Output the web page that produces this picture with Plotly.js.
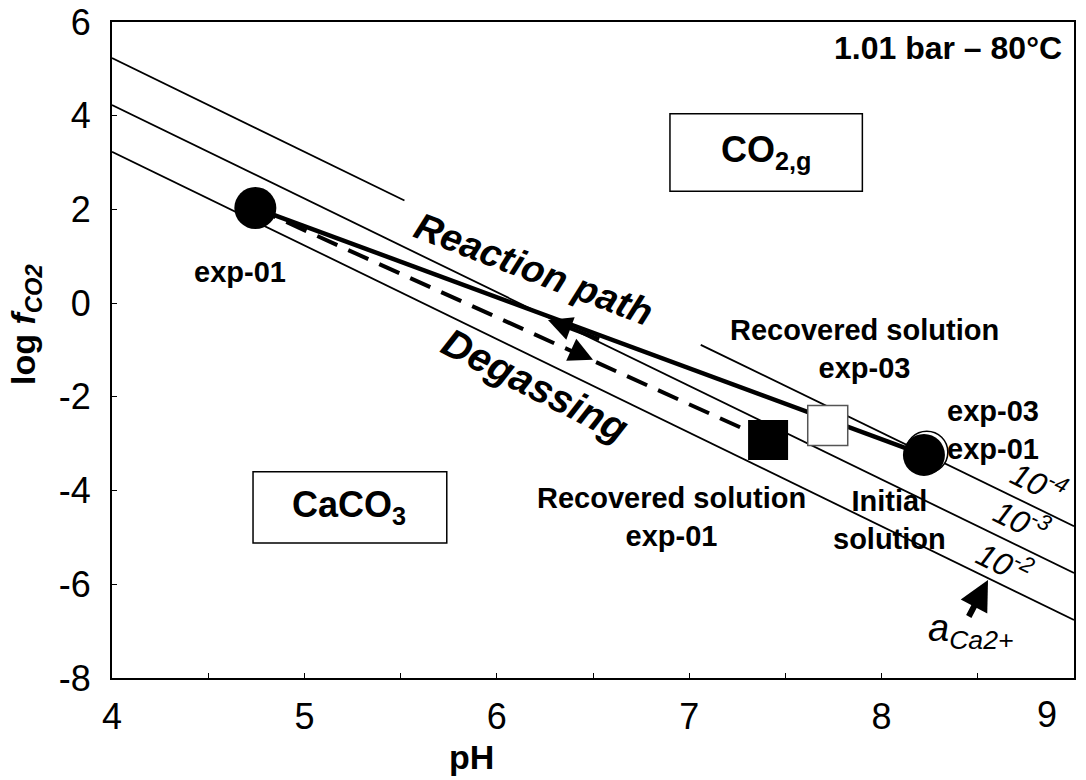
<!DOCTYPE html>
<html>
<head>
<meta charset="utf-8">
<script src="https://cdn.plot.ly/plotly-3.0.1.min.js"></script>
<style>html,body{margin:0;padding:0;background:#fff;}#chart{width:1086px;height:780px;}</style>
</head>
<body>
<div id="chart"></div>
<script>
// ---- data ----
const phRange = [4, 9];
const logfRange = [-8, 6];
// a(Ca2+) boundary lines (pH, log fCO2)
const lineE4_ph = [4, 5.52, null, 7.06, 9];
const lineE4_f  = [5.23, 2.19, null, -0.89, -4.76];
const lineE3_ph = [4, 9];
const lineE3_f  = [4.23, -5.76];
const lineE2_ph = [4, 9];
const lineE2_f  = [3.23, -6.76];
// reaction path (initial solution -> exp-01)
const reaction_ph = [8.22, 7.72, 6.30, 4.745];
const reaction_f  = [-3.24, -2.48, -0.33, 2.03];
// degassing (exp-01 -> recovered solution exp-01)
const degas_ph = [4.745, 7.41];
const degas_f  = [2.03, -2.92];
// points
const exp01_ph = [4.745, 8.22];
const exp01_f  = [2.03, -3.24];
const exp03init_ph = [8.235];
const exp03init_f  = [-3.18];
const recov01_ph = [7.41];
const recov01_f  = [-2.92];
const recov03_ph = [7.72];
const recov03_f  = [-2.61];
const xTickVals = [4, 5, 6, 7, 8];
const xTickText = ['4', '5', '6', '7', '8'];
const yTickVals = [-8, -6, -4, -2, 0, 2, 4, 6];
const yTickText = ['-8', '-6', '-4', '-2', '0', '2', '4', '6'];

const FONT = 'Liberation Sans, Arial, sans-serif';
const thin = {color: '#000', width: 1.8};

const traces = [
  {x: lineE4_ph, y: lineE4_f, mode: 'lines', line: thin, connectgaps: false, hoverinfo: 'skip'},
  {x: lineE3_ph, y: lineE3_f, mode: 'lines', line: thin, hoverinfo: 'skip'},
  {x: lineE2_ph, y: lineE2_f, mode: 'lines', line: thin, hoverinfo: 'skip'},
  {x: degas_ph, y: degas_f, mode: 'lines', line: {color: '#000', width: 4, dash: '22px,12px'}},
  {x: reaction_ph, y: reaction_f, mode: 'lines', line: {color: '#000', width: 4.5}},
  {x: exp03init_ph, y: exp03init_f, mode: 'markers', marker: {symbol: 'circle', size: 42, color: '#fff', line: {color: '#000', width: 1.5}}},
  {x: exp01_ph, y: exp01_f, mode: 'markers', marker: {symbol: 'circle', size: 42, color: '#000', line: {color: '#000', width: 0}}},
  {x: recov01_ph, y: recov01_f, mode: 'markers', marker: {symbol: 'square', size: 40, color: '#000', line: {color: '#000', width: 0}}},
  {x: recov03_ph, y: recov03_f, mode: 'markers', marker: {symbol: 'square', size: 40, color: '#fff', line: {color: '#555', width: 1.5}}}
];

function txt(x, y, text, size, opts) {
  return Object.assign({x: x, y: y, xref: 'x', yref: 'y', text: text, showarrow: false,
    xanchor: 'center', yanchor: 'middle',
    font: {family: FONT, size: size, color: '#000'}}, opts || {});
}
function ptxt(px, py, text, size, opts) {
  return Object.assign({x: (px - 112) / 962, y: (678 - py) / 656, xref: 'paper', yref: 'paper', text: text,
    showarrow: false, xanchor: 'center', yanchor: 'middle',
    font: {family: FONT, size: size, color: '#000'}}, opts || {});
}
const annotations = [
  ptxt(1064, 48, '<b>1.01 bar – 80°C</b>', 32, {xanchor: 'right'}),
  txt(7.40, 3.22, '<b>CO<sub>2,g</sub></b>', 36),
  txt(5.23, -4.35, '<b>CaCO<sub>3</sub></b>', 36),
  txt(4.665, 0.665, '<b>exp-01</b>', 29),
  txt(6.19, 0.72, '<b><i>Reaction path</i></b>', 38, {textangle: 21}),
  txt(6.20, -1.75, '<b><i>Degassing</i></b>', 40, {textangle: 27}),
  txt(7.91, -0.98, '<b>Recovered solution<br>exp-03</b>', 29),
  txt(8.58, -2.70, '<b>exp-03<br>exp-01</b>', 29),
  txt(6.91, -4.56, '<b>Recovered solution<br>exp-01</b>', 29),
  txt(8.04, -4.62, '<b>Initial<br>solution</b>', 29),
  txt(8.82, -3.82, '<i>10<sup>-4</sup></i>', 32, {textangle: 26}),
  txt(8.73, -4.63, '<i>10<sup>-3</sup></i>', 32, {textangle: 26}),
  txt(8.64, -5.52, '<i>10<sup>-2</sup></i>', 32, {textangle: 26}),
  txt(8.46, -7.0, '<i>a<sub>Ca2+</sub></i>', 38),
  // arrows
  {x: 8.553, y: -5.91, ax: 8.449, ay: -6.72, xref: 'x', yref: 'y', axref: 'x', ayref: 'y', text: '',
   showarrow: true, arrowhead: 2, arrowsize: 1, arrowwidth: 6, arrowcolor: '#000'},
  {x: 6.266, y: -0.36, ax: 6.54, ay: -0.78, xref: 'x', yref: 'y', axref: 'x', ayref: 'y', text: '',
   showarrow: true, arrowhead: 2, arrowsize: 1.2, arrowwidth: 4, arrowcolor: '#000'},
  {x: 6.50, y: -1.21, ax: 6.40, ay: -1.02, xref: 'x', yref: 'y', axref: 'x', ayref: 'y', text: '',
   showarrow: true, arrowhead: 2, arrowsize: 1.2, arrowwidth: 4, arrowcolor: '#000'},
  // axis titles
  ptxt(471, 757, '<b>pH</b>', 34),
  ptxt(25, 325, '<b>log <i>f</i><sub><i>CO2</i></sub></b>', 34, {textangle: -90}),
  // shifted "9" tick label
  ptxt(1047, 714, '9', 36)
];

const shapes = [
  {type: 'rect', xref: 'x', yref: 'y', x0: 6.90, x1: 7.90, y0: 2.39, y1: 4.04, line: {color: '#000', width: 1.5}, fillcolor: 'rgba(0,0,0,0)'},
  {type: 'rect', xref: 'x', yref: 'y', x0: 4.733, x1: 5.74, y0: -5.12, y1: -3.60, line: {color: '#000', width: 1.5}, fillcolor: 'rgba(0,0,0,0)'}
];

const layout = {
  width: 1086, height: 780,
  margin: {l: 112, r: 12, t: 22, b: 102},
  paper_bgcolor: '#fff', plot_bgcolor: '#fff',
  showlegend: false,
  font: {family: FONT, color: '#000'},
  xaxis: {
    range: phRange, tickvals: xTickVals, ticktext: xTickText, ticks: 'inside', ticklen: 5, tickwidth: 1, tickcolor: '#000',
    minor: {dtick: 0.5, ticks: 'inside', ticklen: 5, tickcolor: '#000'},
    showgrid: false, zeroline: false, showline: true, linecolor: '#000', linewidth: 2, mirror: true,
    tickfont: {family: FONT, size: 36, color: '#000'}, ticklabelstandoff: 6
  },
  yaxis: {
    range: logfRange, tickvals: yTickVals, ticktext: yTickText, ticks: 'inside', ticklen: 5, tickwidth: 1, tickcolor: '#000',
    showgrid: false, zeroline: false, showline: true, linecolor: '#000', linewidth: 2, mirror: true,
    tickfont: {family: FONT, size: 36, color: '#000'}, ticklabelstandoff: 12
  },
  annotations: annotations,
  shapes: shapes
};

Plotly.newPlot('chart', traces, layout, {staticPlot: true});
</script>
</body>
</html>
